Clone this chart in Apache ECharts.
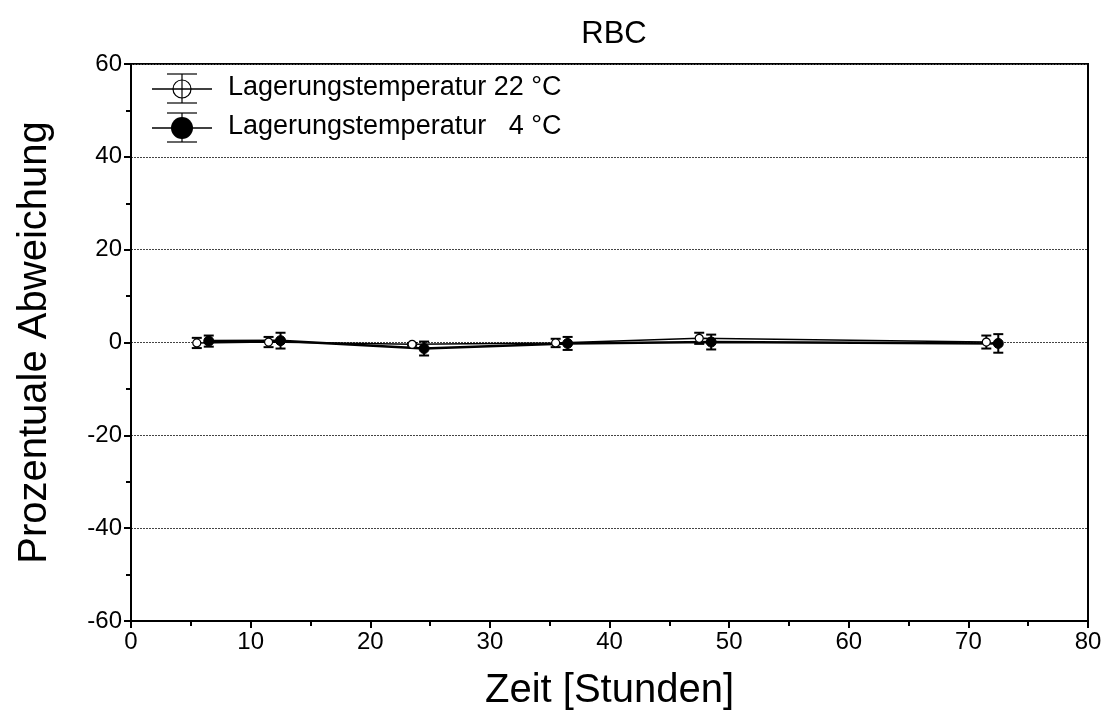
<!DOCTYPE html>
<html>
<head>
<meta charset="utf-8">
<title>RBC</title>
<script src="https://cdn.jsdelivr.net/npm/echarts@6/dist/echarts.min.js"></script>
<style>
  html, body { margin: 0; padding: 0; background: #fff; overflow: hidden; }
  #chart { width: 1109px; height: 711px; }
</style>
</head>
<body>
<div id="chart"></div>
<script>
// Storage time in hours (points slightly offset per series)
const time22 = [5.5, 11.5, 23.5, 35.5, 47.5, 71.5];
const dev22 = [-0.1, 0.1, -0.4, -0.1, 0.9, 0.1];
const err22 = [1.1, 1.1, 0.3, 0.9, 1.2, 1.4];

const time4 = [6.5, 12.5, 24.5, 36.5, 48.5, 72.5];
const dev4 = [0.3, 0.4, -1.3, -0.2, 0.1, -0.2];
const err4 = [1.2, 1.7, 1.5, 1.4, 1.6, 2.0];

const seriesNames = ['Lagerungstemperatur 22 °C', 'Lagerungstemperatur   4 °C'];
const xTicks = [0, 10, 20, 30, 40, 50, 60, 70, 80];
const yTicks = [-60, -40, -20, 0, 20, 40, 60];

const FONT = 'Liberation Sans, Arial, sans-serif';
const chart = echarts.init(document.getElementById('chart'));

function pairs(xs, ys) { return xs.map((x, i) => [x, ys[i]]); }
function errRows(xs, ys, es) { return xs.map((x, i) => [x, ys[i] - es[i], ys[i] + es[i]]); }

function errorBars(capHalf) {
  return function (params, api) {
    const lo = api.coord([api.value(0), api.value(1)]);
    const hi = api.coord([api.value(0), api.value(2)]);
    const st = { stroke: '#000', lineWidth: 2 };
    return {
      type: 'group',
      children: [
        { type: 'line', shape: { x1: lo[0], y1: lo[1], x2: hi[0], y2: hi[1] }, style: st },
        { type: 'line', shape: { x1: lo[0] - capHalf, y1: lo[1], x2: lo[0] + capHalf, y2: lo[1] }, style: st },
        { type: 'line', shape: { x1: hi[0] - capHalf, y1: hi[1], x2: hi[0] + capHalf, y2: hi[1] }, style: st }
      ]
    };
  };
}

const minorTicks = { show: true, splitNumber: 2, length: 5, lineStyle: { color: '#000', width: 2 } };

// Legend drawn as graphic: marker with error bar and label
function legendItem(y, filled, label) {
  return [
    { type: 'line', shape: { x1: 152, y1: y, x2: 212, y2: y }, style: { stroke: '#000', lineWidth: 1.5 } },
    { type: 'line', shape: { x1: 182, y1: y - 15, x2: 182, y2: y + 14 }, style: { stroke: '#000', lineWidth: 1.2 } },
    { type: 'line', shape: { x1: 167, y1: y - 15, x2: 197, y2: y - 15 }, style: { stroke: '#000', lineWidth: 1.2 } },
    { type: 'line', shape: { x1: 167, y1: y + 14, x2: 197, y2: y + 14 }, style: { stroke: '#000', lineWidth: 1.2 } },
    filled
      ? { type: 'circle', shape: { cx: 182, cy: y, r: 11 }, style: { fill: '#000' } }
      : { type: 'circle', shape: { cx: 182, cy: y, r: 9 }, style: { fill: 'none', stroke: '#000', lineWidth: 1.2 } },
    { type: 'text', left: 228, top: y - 15, style: { text: label, font: '27px ' + FONT, fill: '#000' } }
  ];
}

chart.setOption({
  animation: false,
  backgroundColor: '#fff',
  title: {
    text: 'RBC', left: 609, top: 14, textAlign: 'center',
    textStyle: { fontFamily: FONT, fontSize: 31, fontWeight: 'normal', color: '#000' }
  },
  grid: {
    left: 131, right: 21, top: 64, bottom: 90,
    outerBoundsMode: 'none', containLabel: false,
    show: true, borderColor: '#000', borderWidth: 2, backgroundColor: 'transparent'
  },
  xAxis: {
    type: 'value', min: 0, max: 80, interval: 10,
    name: 'Zeit [Stunden]', nameLocation: 'middle', nameGap: 50,
    nameTextStyle: { fontFamily: FONT, fontSize: 40, color: '#000' },
    axisLine: { show: true, onZero: false, lineStyle: { color: '#000', width: 2 } },
    axisTick: { show: true, inside: false, length: 7, lineStyle: { color: '#000', width: 2 } },
    minorTick: minorTicks,
    axisLabel: { fontFamily: FONT, fontSize: 24, color: '#000', margin: 9,
      formatter: v => xTicks.includes(v) ? String(v) : '' },
    splitLine: { show: false }
  },
  yAxis: {
    type: 'value', min: -60, max: 60, interval: 20,
    name: 'Prozentuale Abweichung', nameLocation: 'middle', nameGap: 76,
    nameTextStyle: { fontFamily: FONT, fontSize: 40, color: '#000' },
    axisLine: { show: true, onZero: false, lineStyle: { color: '#000', width: 2 } },
    axisTick: { show: true, inside: false, length: 7, lineStyle: { color: '#000', width: 2 } },
    minorTick: minorTicks,
    axisLabel: { fontFamily: FONT, fontSize: 24, color: '#000', margin: 9,
      formatter: v => yTicks.includes(v) ? String(v) : '' },
    splitLine: { show: true, lineStyle: { color: '#444', width: 1, type: [2, 1] } }
  },
  graphic: [].concat(legendItem(89, false, seriesNames[0]), legendItem(128, true, seriesNames[1])),
  series: [
    {
      name: seriesNames[1] + ' Fehler', type: 'custom', renderItem: errorBars(5),
      data: errRows(time4, dev4, err4), encode: { x: 0, y: [1, 2] }, z: 3, silent: true
    },
    {
      name: seriesNames[0] + ' Fehler', type: 'custom', renderItem: errorBars(5),
      data: errRows(time22, dev22, err22), encode: { x: 0, y: [1, 2] }, z: 3, silent: true
    },
    {
      name: seriesNames[1], type: 'line', data: pairs(time4, dev4),
      symbol: 'circle', symbolSize: 10, z: 4,
      lineStyle: { color: '#000', width: 2.5 },
      itemStyle: { color: '#000', borderColor: '#000', borderWidth: 1 }
    },
    {
      name: seriesNames[0], type: 'line', data: pairs(time22, dev22),
      symbol: 'circle', symbolSize: 8, z: 5,
      lineStyle: { color: '#000', width: 1.5 },
      itemStyle: { color: '#fff', borderColor: '#000', borderWidth: 1.2 }
    }
  ]
});
</script>
</body>
</html>
